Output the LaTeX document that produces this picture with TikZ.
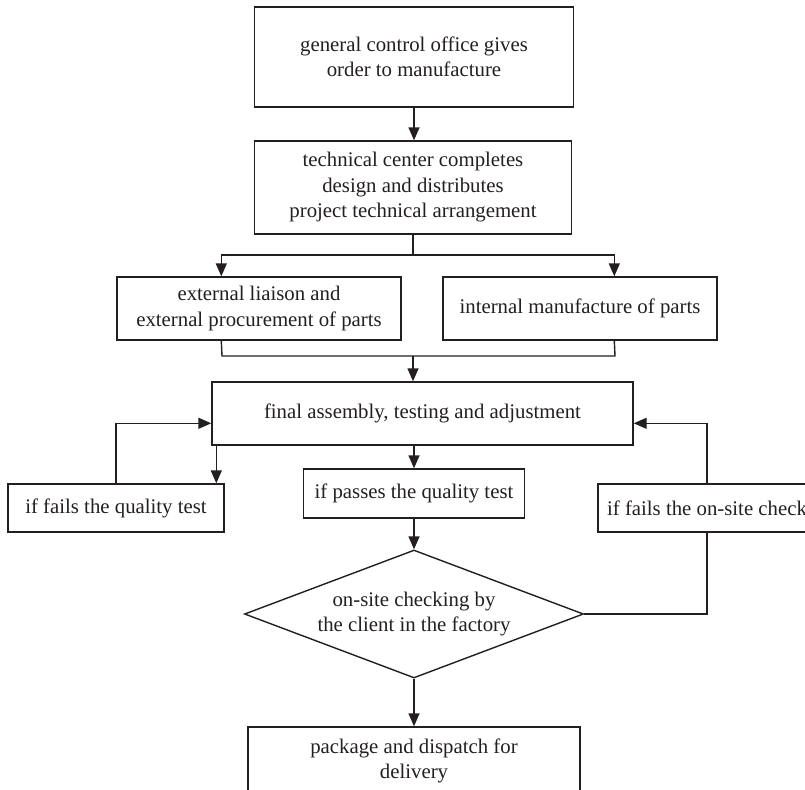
\documentclass[tikz,border=0pt]{standalone}
\usepackage{fontspec}
\setmainfont{Liberation Serif}
\usetikzlibrary{arrows.meta,shapes.geometric}
\definecolor{ink}{RGB}{35,31,32}
\begin{document}
\begin{tikzpicture}[x=1pt,y=-1pt,
  box/.style={draw=ink,text=ink,line width=1.4pt,inner sep=0pt,align=center,
    font=\fontsize{20.8}{25.5}\selectfont},
  dia/.style={box,diamond,aspect=2.65},
  arr/.style={draw=ink,line width=1.4pt,-{Triangle[length=13pt,width=11pt]}},
  ln/.style={draw=ink,line width=1.4pt}]
\useasboundingbox (0,0) rectangle (805,789);
\clip (0,0) rectangle (805,789);

\node[box,minimum width=319pt,minimum height=100pt] (b1) at (414,57) {general control office gives\\order to manufacture};
\node[box,minimum width=317pt,minimum height=93pt] (b2) at (413,187.5) {technical center completes\\design and distributes\\project technical arrangement};
\node[box,minimum width=284pt,minimum height=63pt] (b3) at (259,308.5) {external liaison and\\external procurement of parts};
\node[box,minimum width=274pt,minimum height=63pt] (b4) at (580,308.5) {internal manufacture of parts};
\node[box,minimum width=421pt,minimum height=63pt] (fa) at (422.5,413.5) {final assembly, testing and adjustment};
\node[box,minimum width=216pt,minimum height=48pt] (fq) at (116,508) {if fails the quality test};
\node[box,minimum width=221pt,minimum height=49pt] (pq) at (414,493.5) {if passes the quality test};
\node[box,minimum width=218pt,minimum height=48pt] (fo) at (707,508) {if fails the on-site check};
\node[dia,minimum width=339pt,minimum height=128pt] (dm) at (414,614) {on-site checking by\\the client in the factory};
\node[box,minimum width=332pt,minimum height=68pt] (pk) at (414,761) {package and dispatch for\\delivery};

% coordinates
\coordinate (j1) at (413,255);
\path (b3.north west) ++(105,0) coordinate (b3in);
\path (b4.north west) ++(172,0) coordinate (b4in);
\path (b3.south west) ++(105,0) coordinate (b3out);
\path (b4.south west) ++(172,0) coordinate (b4out);
\coordinate (j2l) at (222,356);
\coordinate (j2r) at (615,356);
\coordinate (j2) at (413,356);
\path (fa.north west) ++(0,42) coordinate (faL);
\path (fa.north east) ++(0,42) coordinate (faR);
\path (fa.south west) ++(5,0) coordinate (faBL);

% connectors
\draw[arr] (b1) -- (b1.south |- b2.north);
\draw[ln] (b2.south) -- (j1);
\draw[arr] (j1) -| (b3in);
\draw[arr] (j1) -| (b4in);
\draw[ln] (b3out) -- (j2l) -- (j2r) -- (b4out);
\draw[arr] (j2) -- (j2 |- fa.north);
\draw[arr] (fq.north) |- (faL);
\draw[arr] (faBL) -- (faBL |- fq.north);
\draw[arr] (pq.north |- fa.south) -- (pq.north);
\draw[arr] (pq.south) -- (dm.north);
\draw[arr] (dm.south) -- (pk.north);
\draw[ln] (dm.east) -| (fo.south);
\draw[arr] (fo.north) |- (faR);
\end{tikzpicture}
\end{document}
